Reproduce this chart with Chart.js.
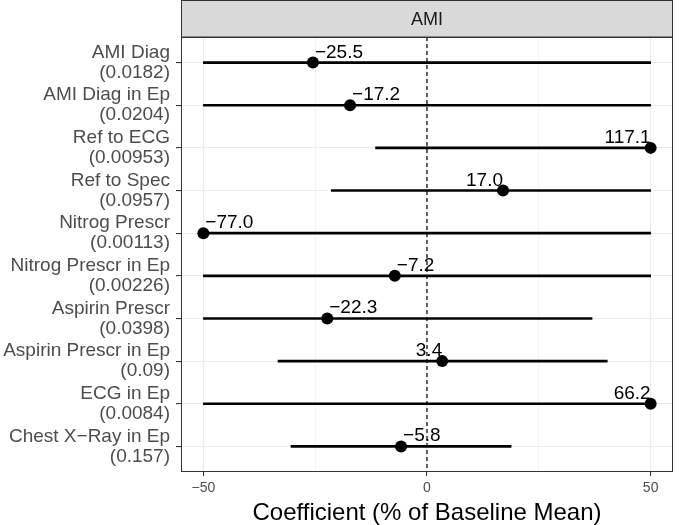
<!DOCTYPE html>
<html>
<head>
<meta charset="utf-8">
<script src="https://cdn.jsdelivr.net/npm/chart.js@4.4.1/dist/chart.umd.min.js"></script>
<style>
  html, body { margin: 0; padding: 0; background: #fff; }
  #wrap { width: 679px; height: 525px; }
</style>
</head>
<body>
<div id="wrap"><canvas id="grafico" width="679" height="525"></canvas></div>
<script>
// Datos
const categorias = ["AMI Diag", "AMI Diag in Ep", "Ref to ECG", "Ref to Spec", "Nitrog Prescr",
  "Nitrog Prescr in Ep", "Aspirin Prescr", "Aspirin Prescr in Ep", "ECG in Ep", "Chest X\u2212Ray in Ep"];
const pValores = ["0.0182", "0.0204", "0.00953", "0.0957", "0.00113", "0.00226", "0.0398", "0.09", "0.0084", "0.157"];
const estimaciones = [-25.5, -17.2, 117.1, 17.0, -77.0, -7.2, -22.3, 3.4, 66.2, -5.8];
const inferior = [-50, -50, -11.5, -21.4, -50, -50, -50, -33.3, -50, -30.4];
const superior = [50, 50, 50, 50, 50, 50, 36.9, 40.3, 50, 18.8];
const ticksX = [-50, -25, 0, 25, 50];
const panel = "AMI";
const tituloX = "Coefficient (% of Baseline Mean)";

const LIM = 50;
const FUENTE = "'Liberation Sans', Arial, sans-serif";
const recortar = v => Math.max(-LIM, Math.min(LIM, v));
const menos = s => s.replace("-", "\u2212");

// Franja del panel, borde y etiquetas de valores
const decoracion = {
  id: "decoracion",
  afterDatasetsDraw(chart) {
    const ctx = chart.ctx;
    const x = chart.scales.x, y = chart.scales.y;
    ctx.save();
    ctx.font = "19px " + FUENTE;
    ctx.fillStyle = "#000";
    ctx.textBaseline = "alphabetic";
    estimaciones.forEach((v, i) => {
      const px = x.getPixelForValue(recortar(v));
      const py = y.getPixelForValue(i);
      const texto = menos(v.toFixed(1));
      if (v < 0) {
        ctx.textAlign = "left";
        ctx.fillText(texto, px + 2, py - 5);
      } else {
        ctx.textAlign = "right";
        ctx.fillText(texto, px, py - 5);
      }
    });
    ctx.restore();
  },
  afterDraw(chart) {
    const ctx = chart.ctx;
    const a = chart.chartArea;
    ctx.save();
    // franja
    ctx.fillStyle = "#d9d9d9";
    ctx.fillRect(a.left, 1, a.right - a.left, a.top - 1);
    ctx.strokeStyle = "#333";
    ctx.lineWidth = 1;
    ctx.strokeRect(a.left + 0.5, 0.5, a.right - a.left - 1, a.top - 0.5);
    ctx.fillStyle = "#1a1a1a";
    ctx.font = "18px " + FUENTE;
    ctx.textAlign = "center";
    ctx.textBaseline = "middle";
    ctx.fillText(panel, (a.left + a.right) / 2, 20);
    // borde del panel
    ctx.strokeRect(a.left + 0.5, a.top + 0.5, a.right - a.left - 1, a.bottom - a.top - 1);
    ctx.restore();
  }
};

const ctx = document.getElementById("grafico").getContext("2d");
new Chart(ctx, {
  type: "bar",
  data: {
    datasets: [
      {
        type: "line",
        data: [{ x: 0, y: -0.6 }, { x: 0, y: 9.6 }],
        borderColor: "#000",
        borderWidth: 1.2,
        borderDash: [4, 3],
        pointRadius: 0,
        order: 3
      },
      {
        type: "bar",
        data: categorias.map((c, i) => ({ x: [recortar(inferior[i]), recortar(superior[i])], y: i })),
        backgroundColor: "#000",
        borderWidth: 0,
        barThickness: 2,
        order: 2
      },
      {
        type: "line",
        data: estimaciones.map((v, i) => ({ x: recortar(v), y: i })),
        showLine: false,
        pointRadius: 6,
        pointBackgroundColor: "#000",
        pointBorderWidth: 0,
        order: 1
      }
    ]
  },
  options: {
    indexAxis: "y",
    responsive: false,
    animation: false,
    layout: { padding: { top: 37, right: 1, left: 0, bottom: 0 } },
    plugins: { legend: { display: false }, tooltip: { enabled: false } },
    scales: {
      x: {
        type: "linear",
        position: "bottom",
        min: -55,
        max: 55,
        offset: false,
        afterBuildTicks: s => { s.ticks = ticksX.map(v => ({ value: v })); },
        afterFit: s => { s.height = 53; },
        ticks: {
          callback: v => (v % 50 === 0 ? menos(String(v)) : ""),
          font: { family: FUENTE, size: 14 },
          color: "#4d4d4d",
          padding: 4,
          maxRotation: 0
        },
        grid: {
          color: "#ebebeb",
          offset: false,
          lineWidth: c => (c.tick && c.tick.value % 50 === 0 ? 1.1 : 0.6),
          tickColor: c => (c.tick && c.tick.value % 50 === 0 ? "#333" : "rgba(0,0,0,0)"),
          tickLength: 4
        },
        border: { display: false },
        title: {
          display: true,
          text: tituloX,
          color: "#000",
          font: { family: FUENTE, size: 24, lineHeight: 1 },
          padding: { top: 0, bottom: 0 }
        }
      },
      y: {
        type: "linear",
        reverse: true,
        min: -0.6,
        max: 9.6,
        offset: false,
        afterBuildTicks: s => { s.ticks = categorias.map((c, i) => ({ value: i })); },
        afterFit: s => { s.width = 181; },
        ticks: {
          callback: v => [categorias[v], "(" + pValores[v] + ")"],
          font: { family: FUENTE, size: 19, lineHeight: 1.05 },
          color: "#4d4d4d",
          padding: 6
        },
        grid: {
          color: "#ebebeb",
          offset: false,
          lineWidth: 1.1,
          tickColor: "#333",
          tickLength: 5
        },
        border: { display: false }
      }
    }
  },
  plugins: [decoracion]
});
</script>
</body>
</html>
